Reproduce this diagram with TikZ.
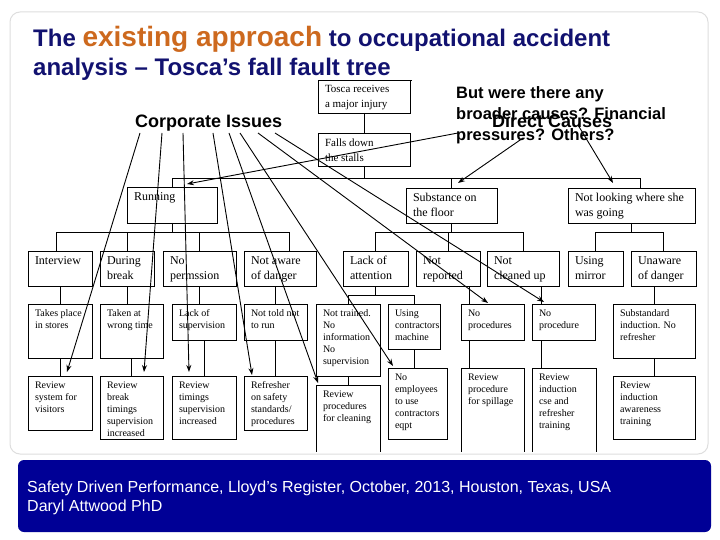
\documentclass[tikz,border=0pt]{standalone}
\usepackage{fontspec}
\setmainfont{Liberation Serif}
\newfontfamily\arialf{Liberation Sans}
\usetikzlibrary{arrows.meta,calc}
\definecolor{titlenavy}{RGB}{18,18,112}
\definecolor{titleorange}{RGB}{205,105,30}
\definecolor{bannerblue}{RGB}{0,0,150}
\definecolor{framegray}{RGB}{222,222,222}
\newcommand\tfbig{\fontsize{12}{15}\selectfont}
\newcommand\tfsmall{\fontsize{10}{12}\selectfont}
\newcommand\tftop{\fontsize{11}{15}\selectfont}
\newcommand\treebx[7]{\node[treebox] (#1) at (#2,#3) {\parbox[t][#5pt][t]{#4pt}{#6\raggedright\leftskip=7pt\relax\parindent=0pt\vspace*{5.5pt}#7}};}
\begin{document}
\begin{tikzpicture}[x=1pt,y=-1pt,
  tl/.style={line width=0.8pt},
  treebox/.style={draw,line width=0.8pt,inner sep=0pt,outer sep=0pt,anchor=north west},
  arr/.style={line width=0.9pt,-{Stealth[length=7pt,width=5pt]}},
  lbl/.style={inner sep=0pt,font=\arialf\bfseries\fontsize{18}{21}\selectfont}]
\useasboundingbox (0,0) rectangle (720,540);
\fill[white] (0,0) rectangle (720,540);
\draw[framegray,rounded corners=10pt,line width=1pt] (10,12) rectangle (708,454);
% title
\node[anchor=base west,inner sep=0pt,text=titlenavy,font={\arialf\bfseries\fontsize{24}{29}\selectfont}] (title1) at (33,47)
  {The {\color{titleorange}\fontsize{28}{34}\selectfont existing approach} to occupational accident};
\node[anchor=base west,inner sep=0pt,text=titlenavy,font={\arialf\bfseries\fontsize{24}{29}\selectfont}] (title2) at (33,76)
  {analysis – Tosca’s fall fault tree};
\draw[line width=0.8pt] ($(title2.base west)+(287,4)$) -- ($(title2.base west)+(379,4)$);
\begin{scope}
\clip (0,0) rectangle (720,451);
% boxes
\treebx{tosca}{318}{80}{92}{33}{\tftop}{Tosca receives\\a major injury}
\treebx{falls}{318}{133}{92}{33}{\tftop}{Falls down\\the stalls}
\treebx{running}{127}{187}{90}{36}{\tfbig}{Running}
\treebx{subst}{406}{188}{91}{35}{\tfbig}{Substance on\\the floor}
\treebx{notlook}{568}{188}{127}{35}{\tfbig}{Not looking where she\\was going}
\treebx{interview}{28}{251}{64}{35}{\tfbig}{Interview}
\treebx{during}{100}{251}{54}{35}{\tfbig}{During\\break}
\treebx{noperm}{163}{251}{73}{35}{\tfbig}{No\\permssion}
\treebx{notaware}{244}{251}{72}{35}{\tfbig}{Not aware\\of danger}
\treebx{lackatt}{343}{251}{65}{35}{\tfbig}{Lack of\\attention}
\treebx{notrep}{416}{251}{64}{35}{\tfbig}{Not\\reported}
\treebx{notclean}{487}{251}{72}{35}{\tfbig}{Not\\cleaned up}
\treebx{mirror}{568}{251}{55}{35}{\tfbig}{Using\\mirror}
\treebx{unaware}{631}{251}{65}{35}{\tfbig}{Unaware\\of danger}
\treebx{takes}{28}{304}{64}{54}{\tfsmall}{Takes place\\in stores}
\treebx{taken}{100}{304}{63}{54}{\tfsmall}{Taken at\\wrong time}
\treebx{lacksup}{172}{304}{64}{36}{\tfsmall}{Lack of\\supervision}
\treebx{nottold}{244}{304}{63}{36}{\tfsmall}{Not told not\\to run}
\treebx{nottrained}{316}{304}{64}{72}{\tfsmall}{Not trained.\\No\\information\\No\\supervision}
\treebx{usingcon}{388}{304}{52}{45}{\tfsmall}{Using\\contractors\\machine}
\treebx{noprocs}{461}{304}{63}{36}{\tfsmall}{No\\procedures}
\treebx{noproc}{532}{304}{63}{36}{\tfsmall}{No\\procedure}
\treebx{substd}{613}{304}{82}{54}{\tfsmall}{Substandard\\induction. No\\refresher}
\treebx{revsys}{28}{376}{64}{54}{\tfsmall}{Review\\system for\\visitors}
\treebx{revbreak}{100}{376}{63}{63}{\tfsmall}{Review\\break\\timings\\supervision\\increased}
\treebx{revtim}{172}{376}{64}{63}{\tfsmall}{Review\\timings\\supervision\\increased}
\treebx{refresh}{244}{376}{63}{54}{\tfsmall}{Refresher\\on safety\\standards/\\procedures}
\treebx{revclean}{316}{385}{64}{80}{\tfsmall}{Review\\procedures\\for cleaning}
\treebx{noemp}{388}{368}{59}{71}{\tfsmall}{No\\employees\\to use\\contractors\\eqpt}
\treebx{revspill}{461}{368}{63}{90}{\tfsmall}{Review\\procedure\\for spillage}
\treebx{revind}{532}{368}{64}{90}{\tfsmall}{Review\\induction\\cse and\\refresher\\training}
\treebx{revaware}{613}{376}{82}{63}{\tfsmall}{Review\\induction\\awareness\\training}
% tree connectors
\draw[tl] (tosca) -- (falls);
\coordinate (fb) at ($(falls.south)+(0,12)$);
\coordinate (fbR) at ($(notlook.north east)+(-55,-10)$);
\draw[tl] (falls.south) -- (fb);
\draw[tl] (running.north) |- (fbR) -- (fbR |- notlook.north);
\draw[tl] (subst.north) -- (subst.north |- fb);
\coordinate (rb) at ($(running.south)+(0,9)$);
\draw[tl] (running.south) -- (rb);
\draw[tl] ($(interview.north)+(-4,0)$) |- (rb);
\draw[tl] (during.north) |- (rb);
\draw[tl] (noperm.north) |- (rb);
\draw[tl] ($(notaware.north)+(9,0)$) |- (rb);
\coordinate (sb) at ($(subst.south)+(0,9)$);
\draw[tl] (subst.south) -- (sb);
\draw[tl] (lackatt.north) |- (sb);
\draw[tl] (notrep.north) |- (sb);
\draw[tl] (notclean.north) |- (sb);
\coordinate (nb) at ($(notlook.south)+(0,9)$);
\draw[tl] (notlook.south) -- (nb);
\draw[tl] (mirror.north) |- (nb);
\draw[tl] (unaware.north) |- (nb);
% row 2 to row 3
\draw[tl] (takes.north) -- (takes.north |- interview.south);
\draw[tl] (during.south) -- (during.south |- taken.north);
\draw[tl] (noperm.south) -- (noperm.south |- lacksup.north);
\draw[tl] (nottold.north) -- (nottold.north |- notaware.south);
\coordinate (lb) at ($(lackatt.south)+(0,9)$);
\draw[tl] (lackatt.south) -- (lb);
\draw[tl] (nottrained.north) |- (lb);
\draw[tl] (usingcon.north) |- (lb);
\coordinate (xa) at ($(noprocs.north west)+(8,0)$);
\draw[tl] (xa) -- (xa |- notrep.south);
\coordinate (xb) at ($(noproc.north west)+(9,0)$);
\draw[tl] (xb) -- (xb |- notclean.south);
\draw[tl] (substd.north) -- (substd.north |- unaware.south);
% row 3 to row 4
\draw[tl] (takes.south) -- (takes.south |- revsys.north);
\draw[tl] (taken.south) -- (taken.south |- revbreak.north);
\draw[tl] (lacksup.south) -- (lacksup.south |- revtim.north);
\draw[tl] (nottold.south) -- (nottold.south |- refresh.north);
\draw[tl] (nottrained.south) -- (nottrained.south |- revclean.north);
\draw[tl] (usingcon.south) -- (usingcon.south |- noemp.north);
\draw[tl] (xa |- noprocs.south) -- (xa |- revspill.north);
\draw[tl] (xb |- noproc.south) -- (xb |- revind.north);
\draw[tl] (substd.south) -- (substd.south |- revaware.north);
% labels
\node[lbl,anchor=base west] (corp) at (135,128) {Corporate Issues};
\node[lbl,anchor=north west,align=left,font={\arialf\bfseries\fontsize{16.5}{21}\selectfont}] (broader) at (456,86)
  {But were there any\\broader causes? Financial\\pressures? Others?};
\node[lbl,anchor=base west] (direct) at (492,128) {Direct Causes};
% corporate issue arrows
\coordinate (c1) at ($(corp.base west)+(5,5)$);
\coordinate (c2) at ($(corp.base west)+(27,5)$);
\coordinate (c3) at ($(corp.base west)+(48,5)$);
\coordinate (c4) at ($(corp.base west)+(78,5)$);
\coordinate (c5) at ($(corp.base west)+(94,5)$);
\coordinate (c6) at ($(corp.base west)+(105,5)$);
\coordinate (c7) at ($(corp.base west)+(123,5)$);
\coordinate (c8) at ($(corp.base west)+(140,5)$);
\draw[arr] (c1) -- ($(revsys.north west)+(39,-4)$);
\draw[arr] (c2) -- ($(revbreak.north west)+(44,-4)$);
\draw[arr] (c3) -- ($(revtim.north west)+(17,-4)$);
\draw[arr] (c4) -- ($(refresh.north west)+(8,-1)$);
\draw[arr] (c5) -- ($(revclean.north west)+(2,-2)$);
\draw[arr] (c6) -- ($(noemp.north west)+(5,-2)$);
\draw[arr] (c7) -- ($(noprocs.north west)+(27,-1)$);
\draw[arr] (c8) -- ($(noproc.north west)+(12,-2)$);
% direct cause arrows
\coordinate (d1) at ($(direct.base west)+(-34,5)$);
\coordinate (d2) at ($(direct.base west)+(31,10)$);
\coordinate (d3) at ($(direct.base west)+(86,-3)$);
\draw[arr] (d1) -- ($(running.north west)+(60,-3)$);
\draw[arr] (d2) -- ($(subst.north west)+(52,-5)$);
\draw[arr] (d3) -- ($(notlook.north west)+(45,-5)$);
\end{scope}
% banner
\fill[bannerblue,rounded corners=6pt] (18,460) rectangle (711,532);
\node[anchor=north west,inner sep=0pt,align=left,text=white,font={\arialf\fontsize{16}{18.5}\selectfont}] (credit) at (27,481)
  {Safety Driven Performance, Lloyd’s Register, October, 2013, Houston, Texas, USA\\Daryl Attwood PhD};
\end{tikzpicture}
\end{document}
